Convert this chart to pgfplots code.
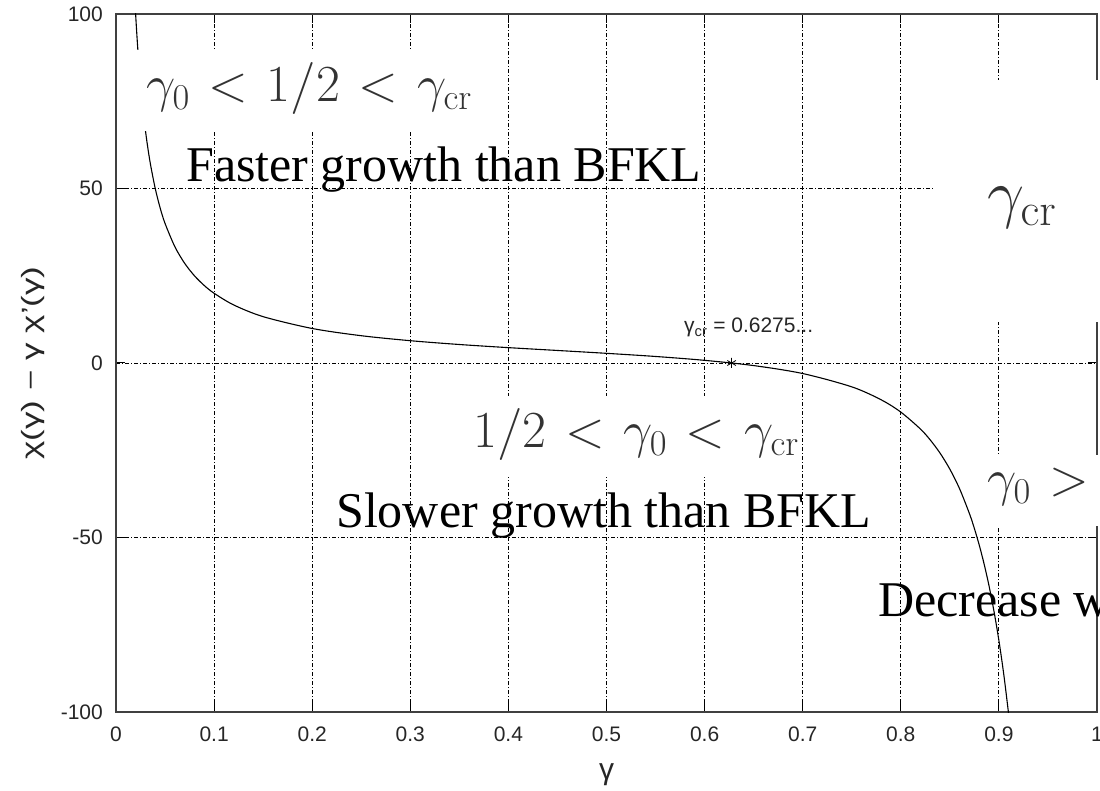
\RequirePackage{fix-cm}
\documentclass[border=0pt]{standalone}
\usepackage[no-math]{fontspec}
\setmainfont{Liberation Serif}
\newfontfamily\helv{Liberation Sans}
\usepackage{graphicx}
\usepackage{pgfplots}
\pgfplotsset{compat=1.18}
\newcommand\pp[2]{(#1pt,790pt-#2pt)}
\begin{document}
\begin{tikzpicture}
\begin{axis}[
  at={(116pt,78pt)}, anchor=south west,
  scale only axis, width=981pt, height=698pt,
  xmin=0, xmax=1, ymin=-100, ymax=100,
  xtick={0,0.1,0.2,0.3,0.4,0.5,0.6,0.7,0.8,0.9,1},
  xticklabels={0,0.1,0.2,0.3,0.4,0.5,0.6,0.7,0.8,0.9,1},
  ytick={-100,-50,0,50,100},
  yticklabels={-100,-50,0,50,100},
  grid=major,
  major grid style={black, line width=0.9pt, dash pattern=on 4pt off 2pt on 1pt off 2pt},
  axis line style={black!75, line width=1.6pt},
  tick align=inside, major tick length=9pt,
  tick style={black, line width=1pt},
  tick label style={font=\helv\fontsize{21}{25}\selectfont, text=black!85, inner sep=0pt},
  xticklabel style={anchor=north, yshift=-15pt},
  yticklabel style={anchor=east, xshift=-13pt},
  xlabel={\helv γ},
  xlabel style={at={(rel axis cs:0.5,-0.0903)}, anchor=center, font=\fontsize{30}{34}\selectfont, text=black!85},
  ylabel={\scalebox{1.4}[1]{\helv χ(γ) − γ χ’(γ)}},
  ylabel style={at={(rel axis cs:-0.0846,0.5)}, anchor=center, font=\fontsize{25}{30}\selectfont, text=black!85},
]
\addplot[black, line width=1.1pt, smooth] coordinates {
(0.019,105.26) (0.020,100.00) (0.022,90.91) (0.025,80.00) (0.0275,72.73)
(0.030,66.66) (0.032,62.50) (0.035,57.14) (0.040,50.00) (0.045,44.44)
(0.050,39.99) (0.060,33.32) (0.070,28.56) (0.080,24.98) (0.090,22.20)
(0.100,19.98) (0.120,16.63) (0.150,13.28) (0.200,9.89) (0.250,7.82)
(0.300,6.39) (0.350,5.30) (0.400,4.40) (0.450,3.59) (0.500,2.77)
(0.550,1.87) (0.600,0.76) (0.650,-0.74) (0.700,-3.02) (0.750,-6.83)
(0.780,-10.55) (0.800,-14.07) (0.820,-18.92) (0.830,-22.05) (0.840,-25.82)
(0.850,-30.42) (0.860,-36.09) (0.870,-43.19) (0.875,-47.42) (0.880,-52.22)
(0.885,-57.69) (0.890,-63.95) (0.895,-71.17) (0.900,-79.54) (0.905,-89.31)
(0.910,-100.82) (0.912,-106.00)
};
\addplot[only marks, mark=asterisk, mark size=5pt, black, line width=0.8pt] coordinates {(0.6275,0)};
\end{axis}
% white boxes behind the pasted annotations
\fill[white] \pp{120}{50} rectangle \pp{495}{131};
\fill[white] \pp{460}{396} rectangle \pp{800}{477};
\fill[white] \pp{933}{80} rectangle \pp{1110}{322};
\fill[white] \pp{980}{455} rectangle \pp{1110}{526};
% annotations
\node[anchor=base west, inner sep=0pt, text=black!80, font=\fontsize{52}{60}\selectfont] at \pp{146}{102} {$\thickmuskip=6.5mu \gamma_0 < 1/2 < \gamma_{\mathrm{cr}}$};
\node[anchor=base west, inner sep=0pt, text=black!80, font=\fontsize{52}{60}\selectfont] at \pp{473}{448} {$\thickmuskip=6.5mu 1/2 < \gamma_0 < \gamma_{\mathrm{cr}}$};
\node[anchor=base west, inner sep=0pt, text=black!80, font=\fontsize{66}{72}\selectfont] at \pp{987}{216} {$\gamma_{\mathrm{cr}}$};
\node[anchor=base west, inner sep=0pt, text=black!80, font=\fontsize{52}{60}\selectfont] at \pp{987}{496} {$\thickmuskip=6.5mu \gamma_0 > \gamma_{\mathrm{cr}}$};
\node[anchor=base west, inner sep=0pt, font=\fontsize{50}{60}\selectfont] at \pp{186}{182} {Faster growth than BFKL};
\node[anchor=base west, inner sep=0pt, font=\fontsize{50}{60}\selectfont] at \pp{336}{528} {Slower growth than BFKL};
\node[anchor=base west, inner sep=0pt, font=\fontsize{50}{60}\selectfont] at \pp{878}{617} {Decrease with energy};
\node[anchor=base west, inner sep=0pt, text=black!85, font=\helv\fontsize{21}{25}\selectfont] at \pp{684}{333} {γ\textsubscript{cr} = 0.6275...};
\pgfresetboundingbox
\useasboundingbox (0,0) rectangle (1100pt,790pt);
\end{tikzpicture}
\end{document}
